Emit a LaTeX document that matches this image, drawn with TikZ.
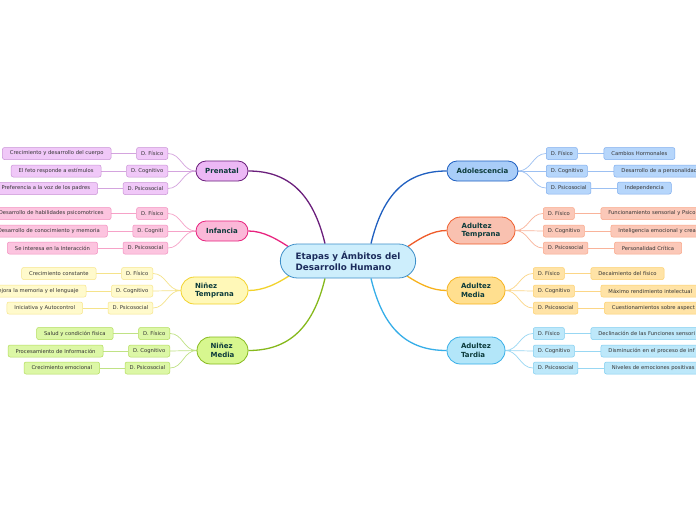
\documentclass[tikz,border=0pt]{standalone}
\usepackage{fontspec}
\setmainfont{DejaVu Sans}
\usetikzlibrary{shapes.misc,backgrounds,calc}
\definecolor{maintext}{HTML}{0C3B3B}
\definecolor{smalltext}{HTML}{333333}
\definecolor{ctext}{HTML}{1C2C5C}
\definecolor{cfill}{HTML}{CDEEFC}\definecolor{cdraw}{HTML}{3D8FC9}
% Prenatal
\definecolor{pAf}{HTML}{ECB8F5}\definecolor{pAd}{HTML}{6B1F7C}\definecolor{pSf}{HTML}{F0C8F8}\definecolor{pSd}{HTML}{C993D6}\definecolor{pSc}{HTML}{D4A4DE}
% Infancia
\definecolor{iAf}{HTML}{FBB8D8}\definecolor{iAd}{HTML}{E8247F}\definecolor{iSf}{HTML}{FCC4DF}\definecolor{iSd}{HTML}{F38FBF}\definecolor{iSc}{HTML}{F6A2C8}
% Ninez Temprana
\definecolor{tAf}{HTML}{FFF8B8}\definecolor{tAd}{HTML}{F2D22A}\definecolor{tSf}{HTML}{FFFACC}\definecolor{tSd}{HTML}{F7E58A}\definecolor{tSc}{HTML}{F5E38A}
% Ninez Media
\definecolor{mAf}{HTML}{D7F78F}\definecolor{mAd}{HTML}{86B91C}\definecolor{mSf}{HTML}{DCF7A6}\definecolor{mSd}{HTML}{B2DC5A}\definecolor{mSc}{HTML}{C0E285}
% Adolescencia
\definecolor{aAf}{HTML}{A9CDF8}\definecolor{aAd}{HTML}{1F5FC0}\definecolor{aSf}{HTML}{B6D6FB}\definecolor{aSd}{HTML}{7FADEE}\definecolor{aSc}{HTML}{9CC0F2}
% Adultez Temprana
\definecolor{eAf}{HTML}{F9C1B0}\definecolor{eAd}{HTML}{EF5C2A}\definecolor{eSf}{HTML}{FBC8B8}\definecolor{eSd}{HTML}{F9A688}\definecolor{eSc}{HTML}{F9B39A}
% Adultez Media
\definecolor{dAf}{HTML}{FFDF8F}\definecolor{dAd}{HTML}{F7B21D}\definecolor{dSf}{HTML}{FFE3A6}\definecolor{dSd}{HTML}{FDD06C}\definecolor{dSc}{HTML}{FCD686}
% Adultez Tardia
\definecolor{gAf}{HTML}{B3E6F9}\definecolor{gAd}{HTML}{36AEE8}\definecolor{gSf}{HTML}{BDE8FA}\definecolor{gSd}{HTML}{7FCDF0}\definecolor{gSc}{HTML}{98D7F3}
\tikzset{
  mainnode/.style={rounded rectangle, draw, line width=0.8pt, minimum height=20pt, inner xsep=2pt, inner ysep=1pt,
    font=\fontsize{7}{8.5}\selectfont\bfseries, text=maintext, align=left},
  subnode/.style={rounded corners=2pt, draw, line width=0.5pt, minimum height=12pt, inner xsep=4.5pt, inner ysep=0pt,
    font=\fontsize{5.25}{6}\selectfont, text=smalltext},
  leafnode/.style={subnode, inner xsep=7.5pt},
  cutnode/.style={leafnode, text width=110pt, align=left},
  bigconn/.style={line width=1.3pt},
  smallconn/.style={line width=0.7pt}
}
\newcommand{\leftcurve}[3]{\draw[smallconn,#3] (#1.west) .. controls +(-13,0) and +(13,0) .. (#2.east);}
\newcommand{\rightcurve}[3]{\draw[smallconn,#3] (#1.east) .. controls +(13,0) and +(-13,0) .. (#2.west);}
\begin{document}
\begin{tikzpicture}[x=1pt,y=-1pt]
\useasboundingbox (0,0) rectangle (696,520);
\clip (0,0) rectangle (696,520);

% center
\node[rounded rectangle, draw=cdraw, fill=cfill, line width=0.8pt, minimum width=142pt, minimum height=34pt,
  font=\fontsize{8.8}{10.8}\selectfont\bfseries, text=ctext, align=left] (c) at (348,261)
  {Etapas y Ámbitos del\\Desarrollo Humano};

% main nodes
\node[mainnode, draw=pAd, fill=pAf, minimum width=56pt] (pre) at (222,171) {Prenatal};
\node[mainnode, draw=iAd, fill=iAf, minimum width=56pt] (inf) at (222,231) {Infancia};
\node[mainnode, draw=tAd, fill=tAf, minimum width=71pt, minimum height=27pt] (nt) at (214.5,290.5) {Niñez\\Temprana};
\node[mainnode, draw=mAd, fill=mAf, minimum width=55pt, minimum height=27pt] (nm) at (222.5,350.5) {Niñez\\Media};
\node[mainnode, draw=aAd, fill=aAf, minimum width=75pt] (ado) at (482.5,171) {Adolescencia};
\node[mainnode, draw=eAd, fill=eAf, minimum width=72pt, minimum height=27pt] (at) at (481,230.5) {Adultez\\Temprana};
\node[mainnode, draw=dAd, fill=dAf, minimum width=62pt, minimum height=27pt] (am) at (476,290.5) {Adultez\\Media};
\node[mainnode, draw=gAd, fill=gAf, minimum width=62pt, minimum height=27pt] (ag) at (476,350.5) {Adultez\\Tardia};

% ---- Prenatal
\node[subnode, draw=pSd, fill=pSf, anchor=east] (p1) at (168,153.5) {D. Físico};
\node[subnode, draw=pSd, fill=pSf, anchor=east] (p2) at (168,171) {D. Cognitivo};
\node[subnode, draw=pSd, fill=pSf, anchor=east] (p3) at (168,188.5) {D. Psicosocial};
\node[leafnode, draw=pSd, fill=pSf, anchor=east] (p1l) at ([xshift=-25pt]p1.west) {Crecimiento y desarrollo del cuerpo};
\node[leafnode, draw=pSd, fill=pSf, anchor=east] (p2l) at ([xshift=-25pt]p2.west) {El feto responde a estímulos};
\node[leafnode, draw=pSd, fill=pSf, anchor=east] (p3l) at ([xshift=-25pt]p3.west) {Preferencia a la voz de los padres};
% ---- Infancia
\node[subnode, draw=iSd, fill=iSf, anchor=east] (i1) at (168,213.5) {D. Físico};
\node[subnode, draw=iSd, fill=iSf, anchor=east] (i2) at (168,231) {D. Cogniti};
\node[subnode, draw=iSd, fill=iSf, anchor=east] (i3) at (168,248) {D. Psicosocial};
\node[leafnode, draw=iSd, fill=iSf, anchor=east] (i1l) at ([xshift=-25pt]i1.west) {Desarrollo de habilidades psicomotrices};
\node[leafnode, draw=iSd, fill=iSf, anchor=east] (i2l) at ([xshift=-25pt]i2.west) {Desarrollo de conocimiento y memoria};
\node[leafnode, draw=iSd, fill=iSf, anchor=east] (i3l) at ([xshift=-25pt]i3.west) {Se interesa en la Interacción};
% ---- Ninez Temprana
\node[subnode, draw=tSd, fill=tSf, anchor=east] (t1) at (153,273.5) {D. Físico};
\node[subnode, draw=tSd, fill=tSf, anchor=east] (t2) at (153,291) {D. Cognitivo};
\node[subnode, draw=tSd, fill=tSf, anchor=east] (t3) at (153,308) {D. Psicosocial};
\node[leafnode, draw=tSd, fill=tSf, anchor=east] (t1l) at ([xshift=-25pt]t1.west) {Crecimiento constante};
\node[leafnode, draw=tSd, fill=tSf, anchor=east] (t2l) at ([xshift=-25pt]t2.west) {Mejora la memoria y el lenguaje};
\node[leafnode, draw=tSd, fill=tSf, anchor=east] (t3l) at ([xshift=-25pt]t3.west) {Iniciativa y Autocontrol};
% ---- Ninez Media
\node[subnode, draw=mSd, fill=mSf, anchor=east] (m1) at (170,333.5) {D. Físico};
\node[subnode, draw=mSd, fill=mSf, anchor=east] (m2) at (170,351) {D. Cognitivo};
\node[subnode, draw=mSd, fill=mSf, anchor=east] (m3) at (170,368) {D. Psicosocial};
\node[leafnode, draw=mSd, fill=mSf, anchor=east] (m1l) at ([xshift=-25pt]m1.west) {Salud y condición física};
\node[leafnode, draw=mSd, fill=mSf, anchor=east] (m2l) at ([xshift=-25pt]m2.west) {Procesamiento de Información};
\node[leafnode, draw=mSd, fill=mSf, anchor=east] (m3l) at ([xshift=-25pt]m3.west) {Crecimiento emocional};
% ---- Adolescencia
\node[subnode, draw=aSd, fill=aSf, anchor=west] (a1) at (546,153.5) {D. Físico};
\node[subnode, draw=aSd, fill=aSf, anchor=west] (a2) at (546,171) {D. Cognitivo};
\node[subnode, draw=aSd, fill=aSf, anchor=west] (a3) at (546,188) {D. Psicosocial};
\node[leafnode, draw=aSd, fill=aSf, anchor=west] (a1l) at ([xshift=26pt]a1.east) {Cambios Hormonales};
\node[cutnode, draw=aSd, fill=aSf, anchor=west] (a2l) at ([xshift=26pt]a2.east) {Desarrollo de a personalidad};
\node[leafnode, draw=aSd, fill=aSf, anchor=west] (a3l) at ([xshift=26pt]a3.east) {Independencia};
% ---- Adultez Temprana
\node[subnode, draw=eSd, fill=eSf, anchor=west] (e1) at (543,213.5) {D. Físico};
\node[subnode, draw=eSd, fill=eSf, anchor=west] (e2) at (543,231) {D. Cognitivo};
\node[subnode, draw=eSd, fill=eSf, anchor=west] (e3) at (543,248) {D. Psicosocial};
\node[cutnode, draw=eSd, fill=eSf, anchor=west] (e1l) at ([xshift=26pt]e1.east) {Funcionamiento sensorial y Psico};
\node[cutnode, draw=eSd, fill=eSf, anchor=west] (e2l) at ([xshift=26pt]e2.east) {Inteligencia emocional y crea};
\node[leafnode, draw=eSd, fill=eSf, anchor=west] (e3l) at ([xshift=26pt]e3.east) {Personalidad Crítica};
% ---- Adultez Media
\node[subnode, draw=dSd, fill=dSf, anchor=west] (d1) at (533,273.5) {D. Físico};
\node[subnode, draw=dSd, fill=dSf, anchor=west] (d2) at (533,291) {D. Cognitivo};
\node[subnode, draw=dSd, fill=dSf, anchor=west] (d3) at (533,308) {D. Psicosocial};
\node[leafnode, draw=dSd, fill=dSf, anchor=west] (d1l) at ([xshift=26pt]d1.east) {Decaimiento del físico};
\node[cutnode, draw=dSd, fill=dSf, anchor=west] (d2l) at ([xshift=26pt]d2.east) {Máximo rendimiento intelectual};
\node[cutnode, draw=dSd, fill=dSf, anchor=west] (d3l) at ([xshift=26pt]d3.east) {Cuestionamientos sobre aspect};
% ---- Adultez Tardia
\node[subnode, draw=gSd, fill=gSf, anchor=west] (g1) at (533,333.5) {D. Físico};
\node[subnode, draw=gSd, fill=gSf, anchor=west] (g2) at (533,351) {D. Cognitivo};
\node[subnode, draw=gSd, fill=gSf, anchor=west] (g3) at (533,368) {D. Psicosocial};
\node[cutnode, draw=gSd, fill=gSf, anchor=west] (g1l) at ([xshift=26pt]g1.east) {Declinación de las Funciones sensori};
\node[cutnode, draw=gSd, fill=gSf, anchor=west] (g2l) at ([xshift=26pt]g2.east) {Disminución en el proceso de inf};
\node[cutnode, draw=gSd, fill=gSf, anchor=west] (g3l) at ([xshift=26pt]g3.east) {Niveles de emociones positivas};

\begin{scope}[on background layer]
\fill[white] (0,0) rectangle (696,520);
% center to main
\draw[bigconn,pAd] ([xshift=-23pt]c.north) .. controls +(-12,-50) and +(40,0) .. (pre.east);
\draw[bigconn,iAd] ([xshift=12pt,yshift=12pt]c.west) .. controls +(-15,-10) and +(15,0) .. (inf.east);
\draw[bigconn,tAd] ([xshift=12pt,yshift=-13pt]c.west) .. controls +(-15,10) and +(15,0) .. (nt.east);
\draw[bigconn,mAd] ([xshift=-23pt]c.south) .. controls +(-12,50) and +(40,0) .. (nm.east);
\draw[bigconn,aAd] ([xshift=23pt]c.north) .. controls +(12,-50) and +(-40,0) .. (ado.west);
\draw[bigconn,eAd] ([xshift=-12pt,yshift=12pt]c.east) .. controls +(15,-10) and +(-15,0) .. (at.west);
\draw[bigconn,dAd] ([xshift=-12pt,yshift=-13pt]c.east) .. controls +(15,10) and +(-15,0) .. (am.west);
\draw[bigconn,gAd] ([xshift=23pt]c.south) .. controls +(12,50) and +(-40,0) .. (ag.west);
% main to sub
\leftcurve{pre}{p1}{pSc}\leftcurve{pre}{p2}{pSc}\leftcurve{pre}{p3}{pSc}
\leftcurve{inf}{i1}{iSc}\leftcurve{inf}{i2}{iSc}\leftcurve{inf}{i3}{iSc}
\leftcurve{nt}{t1}{tSc}\leftcurve{nt}{t2}{tSc}\leftcurve{nt}{t3}{tSc}
\leftcurve{nm}{m1}{mSc}\leftcurve{nm}{m2}{mSc}\leftcurve{nm}{m3}{mSc}
\rightcurve{ado}{a1}{aSc}\rightcurve{ado}{a2}{aSc}\rightcurve{ado}{a3}{aSc}
\rightcurve{at}{e1}{eSc}\rightcurve{at}{e2}{eSc}\rightcurve{at}{e3}{eSc}
\rightcurve{am}{d1}{dSc}\rightcurve{am}{d2}{dSc}\rightcurve{am}{d3}{dSc}
\rightcurve{ag}{g1}{gSc}\rightcurve{ag}{g2}{gSc}\rightcurve{ag}{g3}{gSc}
% sub to leaf
\foreach \s in {p1,p2,p3}{\draw[smallconn,pSc] (\s.west) -- (\s l.east);}
\foreach \s in {i1,i2,i3}{\draw[smallconn,iSc] (\s.west) -- (\s l.east);}
\foreach \s in {t1,t2,t3}{\draw[smallconn,tSc] (\s.west) -- (\s l.east);}
\foreach \s in {m1,m2,m3}{\draw[smallconn,mSc] (\s.west) -- (\s l.east);}
\foreach \s in {a1,a2,a3}{\draw[smallconn,aSc] (\s.east) -- (\s l.west);}
\foreach \s in {e1,e2,e3}{\draw[smallconn,eSc] (\s.east) -- (\s l.west);}
\foreach \s in {d1,d2,d3}{\draw[smallconn,dSc] (\s.east) -- (\s l.west);}
\foreach \s in {g1,g2,g3}{\draw[smallconn,gSc] (\s.east) -- (\s l.west);}
\end{scope}
\end{tikzpicture}
\end{document}
